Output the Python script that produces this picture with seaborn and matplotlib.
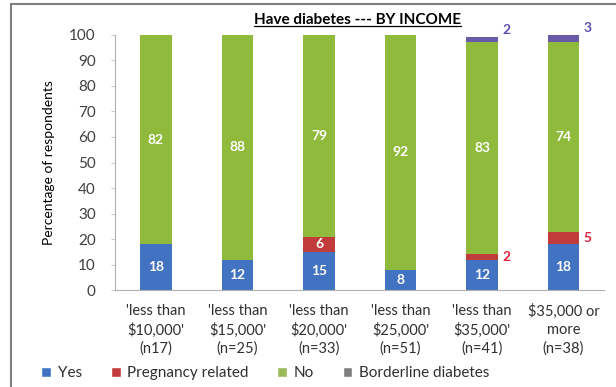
import pandas as pd
import matplotlib
matplotlib.use('Agg')
import matplotlib.pyplot as plt
from matplotlib.lines import Line2D
from matplotlib.patches import Patch
import seaborn as sns

sns.set_style('white')
plt.rcParams['font.family'] = ['Lato', 'DejaVu Sans']

# Data
categories = ["'less than\n$10,000'\n(n17)", "'less than\n$15,000'\n(n=25)",
              "'less than\n$20,000'\n(n=33)", "'less than\n$25,000'\n(n=51)",
              "'less than\n$35,000'\n(n=41)", "$35,000 or\nmore\n(n=38)"]
yes = [18, 12, 15, 8, 12, 18]
pregnancy = [0, 0, 6, 0, 2, 5]
no = [82, 88, 79, 92, 83, 74]
borderline = [0, 0, 0, 0, 2, 3]

series_names = ['Yes', 'Pregnancy related', 'No', 'Borderline diabetes']
series_vals = [yes, pregnancy, no, borderline]
colors = ['#4273c2', '#c23b3b', '#8fba3c', '#6a5aa8']
legend_colors = ['#4273c2', '#c23b3b', '#9bbb59', '#7f7f7f']

fig = plt.figure(figsize=(6.16, 3.87), dpi=100)
ax = fig.add_axes([0.187, 0.25, 0.794, 0.66])

bottom = [0] * len(categories)
for name, vals, col in zip(series_names, series_vals, colors):
    df = pd.DataFrame({'cat': categories, 'val': vals})
    sns.barplot(data=df, x='cat', y='val', color=col, bottom=bottom,
                width=0.39, ax=ax, saturation=1, linewidth=0)
    for i, (v, b) in enumerate(zip(vals, bottom)):
        if v == 0:
            continue
        if name == 'Borderline diabetes':
            ax.text(i + 0.25, b + v + 0.5, str(v), color='#5b4eaa', fontsize=10,
                    fontweight='bold', ha='left', va='bottom')
        elif name == 'Pregnancy related' and v < 6:
            ax.text(i + 0.25, b + v / 2, str(v), color='#e0203c', fontsize=10,
                    fontweight='bold', ha='left', va='center')
        else:
            ax.text(i, b + v / 2, str(v), color='white', fontsize=10,
                    fontweight='bold', ha='center', va='center')
    bottom = [b + v for b, v in zip(bottom, vals)]

ax.set_ylim(0, 100)
ax.set_xlim(-0.5, 5.5)
ax.set_yticks(range(0, 101, 10))
ax.tick_params(axis='y', labelsize=11, labelcolor='#404040', length=3,
               color='#cccccc', left=True, pad=11)
ax.tick_params(axis='x', labelsize=10.5, labelcolor='#303030', length=0, pad=10)
for lbl in ax.get_xticklabels():
    lbl.set_linespacing(1.35)
ax.set_xlabel('')
ax.set_ylabel('Percentage of respondents', fontsize=10, color='black', labelpad=10)
for s in ['top', 'right']:
    ax.spines[s].set_visible(False)
for s in ['left', 'bottom']:
    ax.spines[s].set_color('#b0b0b0')
    ax.spines[s].set_linewidth(0.8)

# title with underline
title = fig.text(0.58, 0.948, 'Have diabetes --- BY INCOME', ha='center', va='center',
                 fontsize=11, fontweight='bold', color='black')
fig.canvas.draw()
bb = title.get_window_extent().transformed(fig.transFigure.inverted())
fig.add_artist(Line2D([bb.x0, bb.x1], [bb.y0 + 0.002, bb.y0 + 0.002],
                      transform=fig.transFigure, color='black', linewidth=0.9))

# legend
handles = [Patch(facecolor=c, label=n) for n, c in zip(series_names, legend_colors)]
fig.legend(handles=handles, loc='lower left', bbox_to_anchor=(0.045, -0.018), ncol=4,
           frameon=False, fontsize=11, handlelength=0.65, handleheight=0.65,
           handletextpad=0.4, columnspacing=1.9, labelcolor='#303030')

# outer frame lines
fig.add_artist(Line2D([0.018, 0.018], [0, 0.99], transform=fig.transFigure,
                      color='#808080', linewidth=1.5))
fig.add_artist(Line2D([0.018, 1], [0.99, 0.99], transform=fig.transFigure,
                      color='#808080', linewidth=1.5))

fig.savefig('out.png', dpi=100)
